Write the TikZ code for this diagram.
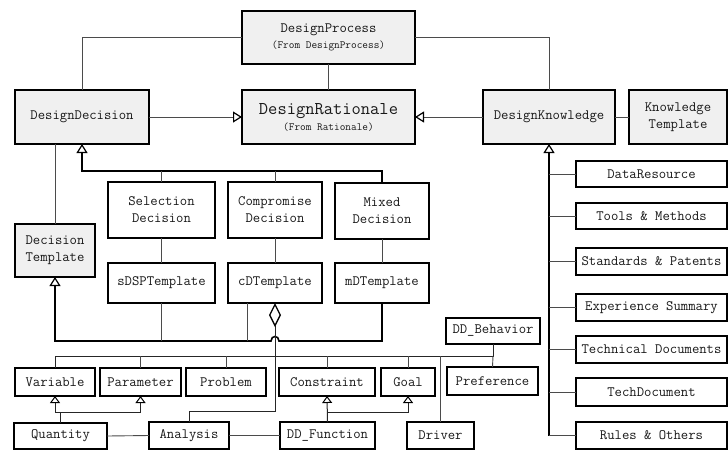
\documentclass[tikz,border=0pt]{standalone}
\usepackage{fontspec}
\usetikzlibrary{arrows.meta}
\definecolor{boxgray}{RGB}{240,240,240}
\definecolor{wirecol}{RGB}{75,75,75}
\tikzset{
  box/.style={draw=black, line width=1.1pt, inner sep=0pt, outer sep=0pt,
    align=center, font=\ttfamily\fontsize{14.3}{17}\selectfont, fill=white, text=black!90},
  shaded/.style={box, fill=boxgray},
  wire/.style={draw=wirecol, line width=0.9pt},
  wiredark/.style={draw=black!85, line width=1pt},
  spine/.style={draw=black, line width=1.6pt},
  gentip/.style={-{Triangle[open, length=9pt, width=11pt, line width=1.2pt, color=black]}},
  smalltip/.style={-{Triangle[open, length=7pt, width=10pt, line width=1pt, color=black]}},
  aggtip/.style={-{Diamond[open, length=24pt, width=12pt, line width=1.3pt, color=black]}},
}
\newcommand\bigtxt{\fontsize{18}{20}\selectfont}
\newcommand\smalltxt{\fontsize{11}{12}\selectfont}
\begin{document}
\begin{tikzpicture}[x=1pt, y=-1pt]
\useasboundingbox (0,0) rectangle (728,451);

% ---- upper level classes
\node[shaded, minimum width=173pt, minimum height=53pt] (proc) at (328.5,37.5)
  {DesignProcess\\[-1pt]{\smalltxt (From DesignProcess)}};
\node[shaded, minimum width=173pt, minimum height=54pt] (rat) at (328.5,117)
  {{\bigtxt DesignRationale}\\[-1pt]{\smalltxt (From Rationale)}};
\node[shaded, minimum width=134pt, minimum height=54pt] (dec) at (82,117) {DesignDecision};
\node[shaded, minimum width=132pt, minimum height=54pt] (kno) at (549,117) {DesignKnowledge};
\node[shaded, minimum width=98pt, minimum height=54pt] (ktp) at (678,117) {Knowledge\\Template};
\node[shaded, minimum width=80pt, minimum height=53pt] (dtp) at (55,250.5) {Decision\\Template};

% ---- decision kinds and their templates
\node[box, minimum width=107pt, minimum height=56pt] (sel) at (161.5,210) {Selection\\Decision};
\node[box, minimum width=94pt, minimum height=56pt] (com) at (275,210) {Compromise\\Decision};
\node[box, minimum width=94pt, minimum height=56pt] (mix) at (382,211) {Mixed\\Decision};
\node[box, minimum width=107pt, minimum height=40pt] (sdsp) at (161.5,283) {sDSPTemplate};
\node[box, minimum width=94pt, minimum height=40pt] (cdt) at (275,283) {cDTemplate};
\node[box, minimum width=94pt, minimum height=40pt] (mdt) at (382,283) {mDTemplate};

% ---- knowledge kinds
\node[box, minimum width=151pt, minimum height=26pt] (dres) at (651.5,174) {DataResource};
\node[box, minimum width=151pt, minimum height=26pt] (tools) at (651.5,216) {Tools \& Methods};
\node[box, minimum width=151pt, minimum height=27pt] (std) at (651.5,261.5) {Standards \& Patents};
\node[box, minimum width=151pt, minimum height=27pt] (exp) at (651.5,307.5) {Experience Summary};
\node[box, minimum width=151pt, minimum height=27pt] (techd) at (651.5,349.5) {Technical Documents};
\node[box, minimum width=151pt, minimum height=28pt] (tdoc) at (651.5,392) {TechDocument};
\node[box, minimum width=151pt, minimum height=27pt] (rules) at (651.5,435.5) {Rules \& Others};

% ---- template elements
\node[box, minimum width=80pt, minimum height=28pt] (var) at (55,382) {Variable};
\node[box, minimum width=81pt, minimum height=28pt] (par) at (140.5,382) {Parameter};
\node[box, minimum width=80pt, minimum height=28pt] (prob) at (226,382) {Problem};
\node[box, minimum width=96pt, minimum height=28pt] (con) at (327,382) {Constraint};
\node[box, minimum width=54pt, minimum height=28pt] (goal) at (408,382) {Goal};
\node[box, minimum width=91pt, minimum height=28pt] (pref) at (492.5,381) {Preference};
\node[box, minimum width=94pt, minimum height=26pt] (ddb) at (493,331) {DD\_Behavior};
\node[box, minimum width=93pt, minimum height=26pt] (qty) at (60.5,436) {Quantity};
\node[box, minimum width=80pt, minimum height=27pt] (ana) at (189,435.5) {Analysis};
\node[box, minimum width=95pt, minimum height=27pt] (ddf) at (327.5,435.5) {DD\_Function};
\node[box, minimum width=67pt, minimum height=27pt] (drv) at (440.5,435.5) {Driver};

% ---- routing points
\coordinate (gd) at (82,171);
\coordinate (tb) at (55,341);
\coordinate (hopR) at (279,341);
\coordinate (hopL) at (271,341);
\coordinate (busL) at (55,356);
\coordinate (busR) at (493,356);
\coordinate (av) at (275,411);
\coordinate (qv) at (60.5,412);
\coordinate (fv) at (327.5,412);
\coordinate (kb) at (549,435.5);

% ---- top associations
\draw[wire] (dec.north) |- (proc.west);
\draw[wire] (proc.east) -| (kno.north);
\draw[wire] (proc.south) -- (rat.north);
\draw[wire, gentip] (dec.east) -- (rat.west);
\draw[wire, gentip] (kno.west) -- (rat.east);
\draw[wire] (kno.east) -- (ktp.west);
\draw[wire] (dtp.north) -- (dtp.north |- dec.south);

% ---- decision hierarchy
\draw[spine, gentip] (mix.north) |- (gd) -- (dec.south);
\draw[wire] (sel.north) -- (sel.north |- gd);
\draw[wire] (com.north) -- (com.north |- gd);
\draw[wire] (sel.south) -- (sdsp.north);
\draw[wire] (com.south) -- (cdt.north);
\draw[wire] (mix.south) -- (mdt.north);

% ---- template hierarchy (hops over the aggregation line)
\draw[spine, gentip] (mdt.south) |- (hopR) .. controls +(0,-6) and +(0,-6) .. (hopL) -- (tb) -- (dtp.south);
\draw[wire] (sdsp.south) -- (sdsp.south |- tb);
\draw[wire] ([xshift=19pt]cdt.south west) -- ++(0,38);

% ---- aggregation of template elements
\draw[wiredark, aggtip] (ana.north) |- (av) -- (cdt.south);
\draw[wiredark] (var.north) |- (busR) -- (ddb.south);
\draw[wire] (busR) -- (pref.north);
\draw[wire] (par.north) -- (par.north |- busL);
\draw[wire] (prob.north) -- (prob.north |- busL);
\draw[wire] (con.north) -- (con.north |- busL);
\draw[wire] (goal.north) -- (goal.north |- busL);
\draw[wire] (drv.north) -- (drv.north |- busL);

% ---- element specialisations
\draw[wiredark, smalltip] (qty.north) -- (qv) -| (var.south);
\draw[wiredark, smalltip] (qv) -| (par.south);
\draw[wiredark, smalltip] (ddf.north) -- (con.south);
\draw[wiredark, smalltip] (fv) -| (goal.south);
\draw[wire] (qty.east) -- (ana.west);
\draw[wire] (ana.east) -- (ddf.west);

% ---- knowledge hierarchy
\draw[spine, gentip] (kb) -- (kno.south);
\draw[wire] (kb) -- (rules.west);
\foreach \k in {dres, tools, std, exp, techd, tdoc}
  \draw[wire] (\k.west) -- (\k.west -| kb);
\end{tikzpicture}
\end{document}
